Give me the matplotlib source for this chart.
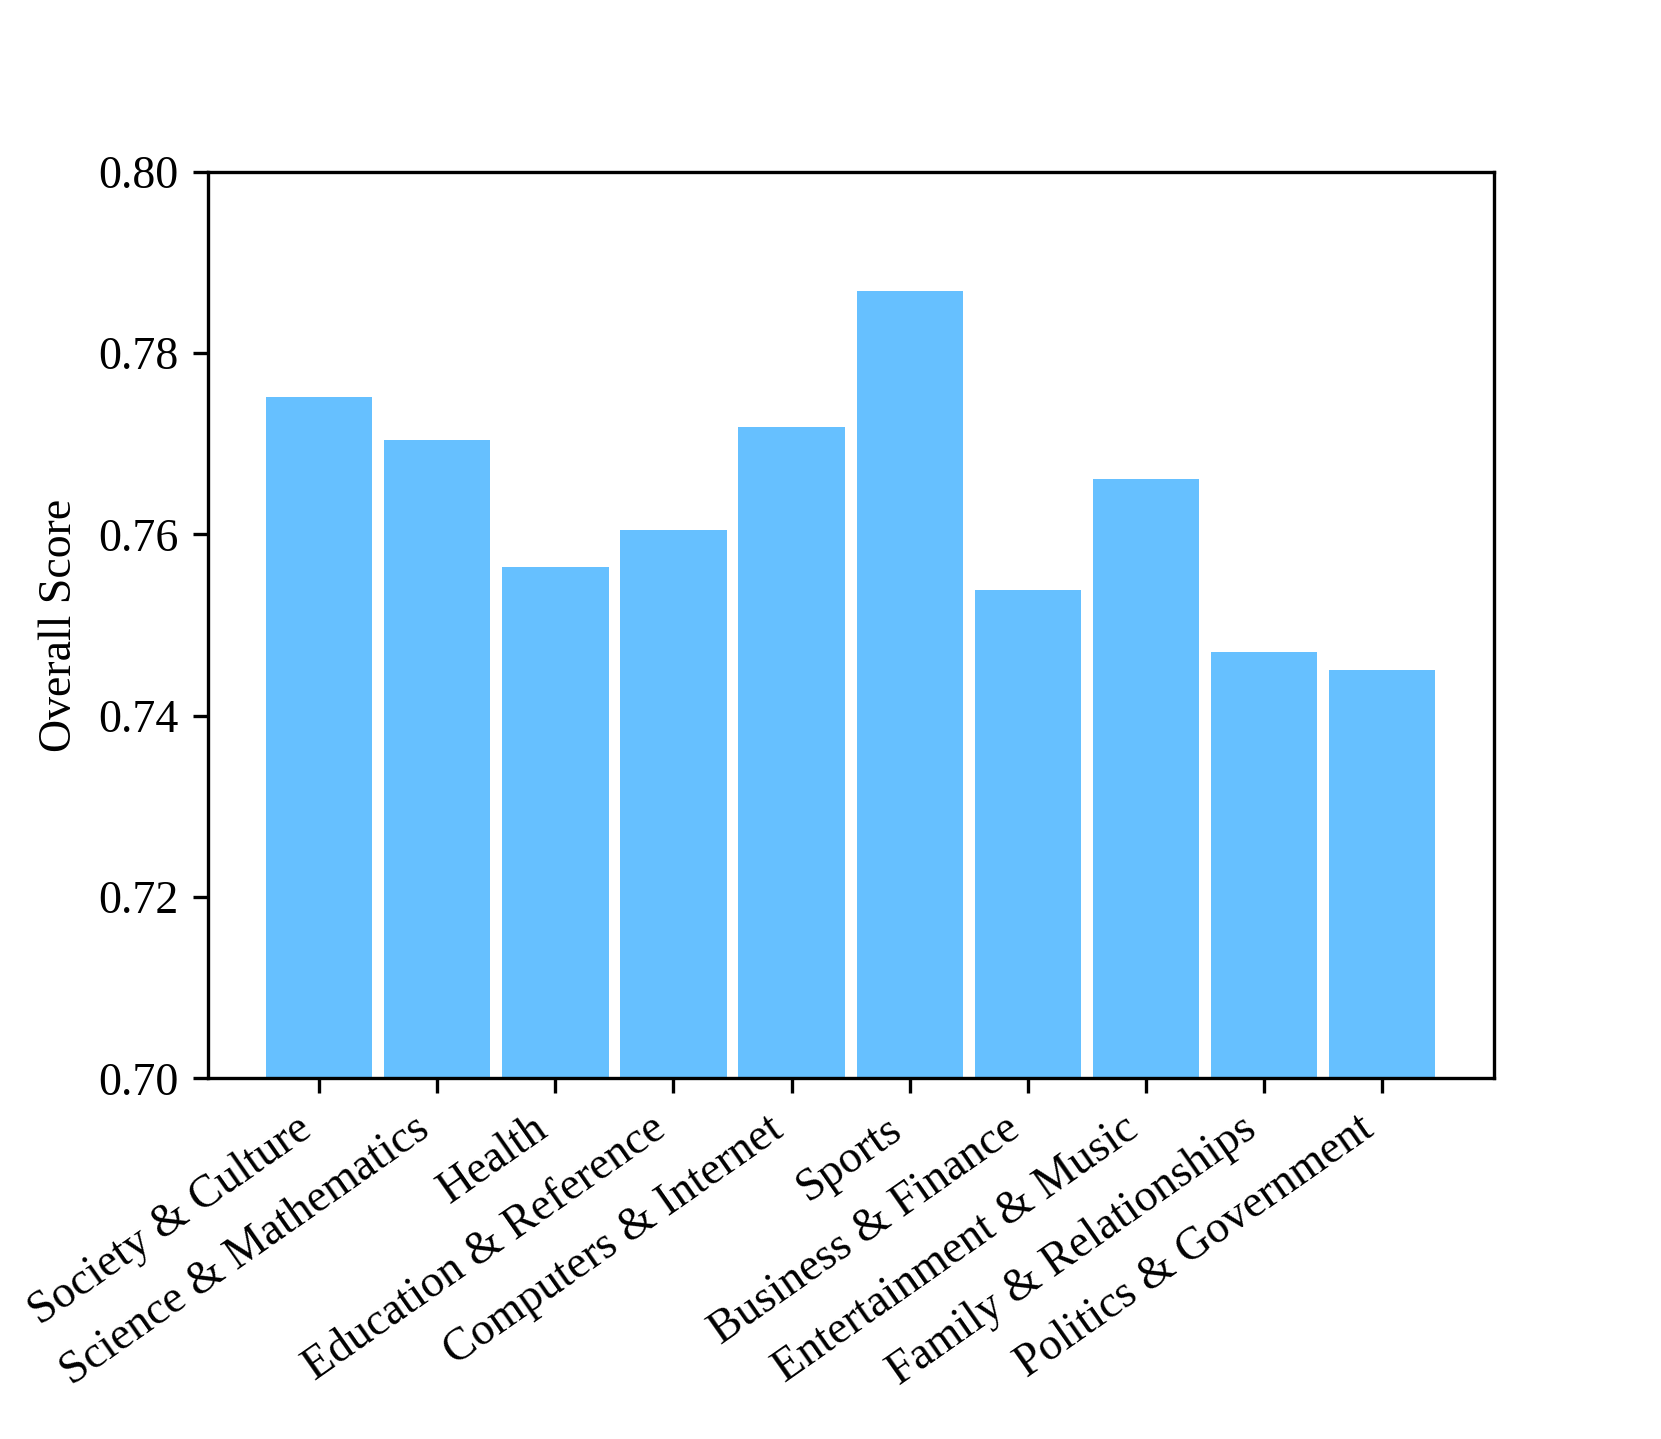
import matplotlib
matplotlib.use("Agg")
import matplotlib.pyplot as plt

categories = ["Society & Culture", "Science & Mathematics", "Health",
              "Education & Reference", "Computers & Internet", "Sports",
              "Business & Finance", "Entertainment & Music",
              "Family & Relationships", "Politics & Government"]
scores = [0.7751, 0.7704, 0.7564, 0.7605, 0.7718, 0.7868,
          0.7539, 0.7661, 0.7470, 0.7450]
yticks = [0.70, 0.72, 0.74, 0.76, 0.78, 0.80]

plt.rcParams['font.family'] = ['Liberation Serif', 'DejaVu Serif']
plt.rcParams['font.size'] = 11

fig = plt.figure(figsize=(1661/300, 1439/300), dpi=300)
ax = fig.add_axes([0.125, 0.2506, 0.8992-0.125, 0.8807-0.2506])
x = list(range(len(categories)))
ax.bar(x, scores, width=0.9, color='#66c0ff')
ax.set_ylim(0.70, 0.80)
ax.set_yticks(yticks)
ax.set_yticklabels([f"{t:.2f}" for t in yticks])
ax.set_xticks(x)
ax.set_xticklabels(categories, rotation=35, ha='right')
ax.set_ylabel("Overall Score")
fig.savefig("out.png", dpi=300)
